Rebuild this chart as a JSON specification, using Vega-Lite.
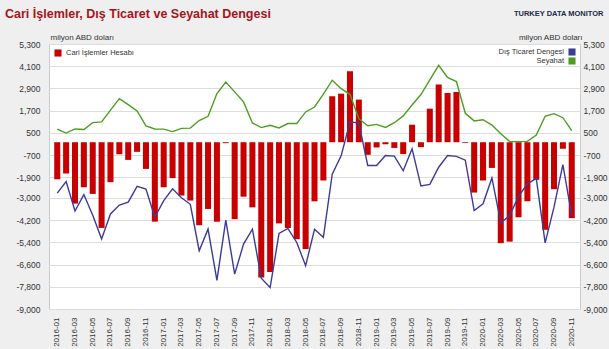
{
  "$schema": "https://vega.github.io/schema/vega-lite/v6.json",
  "width": 531,
  "height": 265,
  "autosize": {"type": "none"},
  "padding": {"left": 49, "top": 44, "right": 29, "bottom": 40},
  "background": "#efefef",
  "config": {
    "font": "Liberation Sans",
    "view": {"fill": "#ffffff", "stroke": "#cccccc", "strokeWidth": 1},
    "axis": {"labelFont": "Liberation Sans", "titleFont": "Liberation Sans", "labelColor": "#333333", "titleColor": "#333333"},
    "legend": {"labelFont": "Liberation Sans"}
  },
  "title": {
    "text": "Cari İşlemler, Dış Ticaret ve Seyahat Dengesi",
    "anchor": "start",
    "frame": "group",
    "dx": -44,
    "dy": 15,
    "fontSize": 12.5,
    "fontWeight": "bold",
    "color": "#a3161b",
    "font": "Liberation Sans Narrow, Liberation Sans"
  },
  "data": {
    "values": [
      {"month": "2016-01", "cari": -2000, "dis": -2745, "seyahat": 710},
      {"month": "2016-02", "cari": -1690, "dis": -2120, "seyahat": 495},
      {"month": "2016-03", "cari": -3310, "dis": -3710, "seyahat": 715},
      {"month": "2016-04", "cari": -2430, "dis": -2825, "seyahat": 690},
      {"month": "2016-05", "cari": -2790, "dis": -3940, "seyahat": 1060},
      {"month": "2016-06", "cari": -4625, "dis": -5220, "seyahat": 1100},
      {"month": "2016-07", "cari": -2155, "dis": -3870, "seyahat": 1730},
      {"month": "2016-08", "cari": -650, "dis": -3390, "seyahat": 2350},
      {"month": "2016-09", "cari": -955, "dis": -3230, "seyahat": 2030},
      {"month": "2016-10", "cari": -520, "dis": -2385, "seyahat": 1690},
      {"month": "2016-11", "cari": -1440, "dis": -2530, "seyahat": 878},
      {"month": "2016-12", "cari": -4285, "dis": -4050, "seyahat": 716},
      {"month": "2017-01", "cari": -2430, "dis": -3150, "seyahat": 707},
      {"month": "2017-02", "cari": -1935, "dis": -2515, "seyahat": 574},
      {"month": "2017-03", "cari": -2877, "dis": -3000, "seyahat": 745},
      {"month": "2017-04", "cari": -3147, "dis": -3350, "seyahat": 760},
      {"month": "2017-05", "cari": -4480, "dis": -5855, "seyahat": 1170},
      {"month": "2017-06", "cari": -3600, "dis": -4690, "seyahat": 1400},
      {"month": "2017-07", "cari": -4290, "dis": -7450, "seyahat": 2628},
      {"month": "2017-08", "cari": -50, "dis": -4200, "seyahat": 3250},
      {"month": "2017-09", "cari": -4150, "dis": -7120, "seyahat": 2716},
      {"month": "2017-10", "cari": -2940, "dis": -5500, "seyahat": 2175},
      {"month": "2017-11", "cari": -3515, "dis": -4690, "seyahat": 1040},
      {"month": "2017-12", "cari": -7300, "dis": -7340, "seyahat": 790},
      {"month": "2018-01", "cari": -7000, "dis": -7840, "seyahat": 914},
      {"month": "2018-02", "cari": -4380, "dis": -4920, "seyahat": 770},
      {"month": "2018-03", "cari": -4630, "dis": -4650, "seyahat": 1006},
      {"month": "2018-04", "cari": -5230, "dis": -5410, "seyahat": 1006},
      {"month": "2018-05", "cari": -5765, "dis": -6665, "seyahat": 1634},
      {"month": "2018-06", "cari": -3190, "dis": -4700, "seyahat": 1900},
      {"month": "2018-07", "cari": -2065, "dis": -5130, "seyahat": 2600},
      {"month": "2018-08", "cari": 2480, "dis": -1720, "seyahat": 3345},
      {"month": "2018-09", "cari": 2620, "dis": -735, "seyahat": 2890},
      {"month": "2018-10", "cari": 3830, "dis": 1085, "seyahat": 2585},
      {"month": "2018-11", "cari": 2300, "dis": 1045, "seyahat": 1270},
      {"month": "2018-12", "cari": -680, "dis": -1256, "seyahat": 888},
      {"month": "2019-01", "cari": -283, "dis": -1256, "seyahat": 962},
      {"month": "2019-02", "cari": -110, "dis": -715, "seyahat": 798},
      {"month": "2019-03", "cari": -308, "dis": -750, "seyahat": 1052},
      {"month": "2019-04", "cari": -640, "dis": -1540, "seyahat": 1420},
      {"month": "2019-05", "cari": 945, "dis": -353, "seyahat": 2008},
      {"month": "2019-06", "cari": -265, "dis": -2366, "seyahat": 2575},
      {"month": "2019-07", "cari": 1810, "dis": -2275, "seyahat": 3360},
      {"month": "2019-08", "cari": 3115, "dis": -1350, "seyahat": 4150},
      {"month": "2019-09", "cari": 2655, "dis": -715, "seyahat": 3495},
      {"month": "2019-10", "cari": 2710, "dis": -765, "seyahat": 3270},
      {"month": "2019-11", "cari": -40, "dis": -970, "seyahat": 1560},
      {"month": "2019-12", "cari": -2717, "dis": -3687, "seyahat": 1150},
      {"month": "2020-01", "cari": -2065, "dis": -3326, "seyahat": 1214},
      {"month": "2020-02", "cari": -1387, "dis": -1930, "seyahat": 926},
      {"month": "2020-03", "cari": -5446, "dis": -4348, "seyahat": 458},
      {"month": "2020-04", "cari": -5365, "dis": -3960, "seyahat": 40},
      {"month": "2020-05", "cari": -4050, "dis": -2925, "seyahat": 30},
      {"month": "2020-06", "cari": -3185, "dis": -2246, "seyahat": 45},
      {"month": "2020-07", "cari": -2030, "dis": -1957, "seyahat": 385},
      {"month": "2020-08", "cari": -4725, "dis": -5430, "seyahat": 1400},
      {"month": "2020-09", "cari": -2535, "dis": -3507, "seyahat": 1540},
      {"month": "2020-10", "cari": -353, "dis": -1210, "seyahat": 1322},
      {"month": "2020-11", "cari": -4095, "dis": -3960, "seyahat": 622}
    ]
  },
  "layer": [
    {
      "transform": [{"calculate": "'Cari İşlemler Hesabı'", "as": "seri1"}],
      "mark": {"type": "bar", "color": "#c80000"},
      "encoding": {
        "x": {
          "field": "month", "type": "ordinal", "sort": null,
          "scale": {"paddingInner": 0.32, "paddingOuter": 0.59},
          "axis": {
            "orient": "bottom",
            "title": null,
            "labelAngle": -90,
            "labelFontSize": 8,
            "labelPadding": 8,
            "ticks": false,
            "domain": false,
            "values": ["2016-01","2016-03","2016-05","2016-07","2016-09","2016-11","2017-01","2017-03","2017-05","2017-07","2017-09","2017-11","2018-01","2018-03","2018-05","2018-07","2018-09","2018-11","2019-01","2019-03","2019-05","2019-07","2019-09","2019-11","2020-01","2020-03","2020-05","2020-07","2020-09","2020-11"]
          }
        },
        "y": {
          "field": "cari", "type": "quantitative",
          "scale": {"domain": [-9000, 5300], "nice": false, "zero": false},
          "axis": {
            "orient": "left",
            "values": [-9000, -7800, -6600, -5400, -4200, -3000, -1900, -700, 500, 1700, 2900, 4100, 5300],
            "labelExpr": "replace(format(datum.value, ','), '−', '-')",
            "grid": true, "gridColor": "#dddddd", "gridWidth": 1.2,
            "domain": false, "ticks": false,
            "labelFontSize": 8.5, "labelPadding": 9,
            "title": "milyon ABD doları",
            "titleAngle": 0, "titleAlign": "left", "titleBaseline": "alphabetic",
            "titleX": 1, "titleY": -5,
            "titleFontSize": 8, "titleFontWeight": "normal"
          }
        },
        "color": {
          "field": "seri1", "type": "nominal",
          "scale": {"domain": ["Cari İşlemler Hesabı"], "range": ["#c80000"]},
          "legend": {
            "title": null, "orient": "top-left", "offset": 5,
            "symbolType": "square", "symbolSize": 50, "symbolStrokeWidth": 0,
            "labelFontSize": 7.5, "labelColor": "#333333", "labelOffset": 4
          }
        }
      }
    },
    {
      "transform": [
        {"fold": ["dis", "seyahat"], "as": ["key", "val"]},
        {"calculate": "datum.key == 'dis' ? 'Dış Ticaret Dengesi' : 'Seyahat'", "as": "seri2"}
      ],
      "mark": {"type": "line", "strokeWidth": 1.4},
      "encoding": {
        "x": {
          "field": "month", "type": "ordinal", "sort": null,
          "axis": {
            "orient": "top", "labels": false, "ticks": false, "domain": false, "grid": false,
            "title": "TURKEY DATA MONITOR",
            "titleAlign": "right", "titleAnchor": "end", "titleBaseline": "alphabetic",
            "titleX": 554, "titleY": -29,
            "titleFont": "Liberation Sans Narrow, Liberation Sans",
            "titleFontSize": 7.5, "titleFontWeight": "bold", "titleColor": "#1b2a49"
          }
        },
        "y": {
          "field": "val", "type": "quantitative",
          "scale": {"domain": [-9000, 5300], "nice": false, "zero": false},
          "axis": {
            "orient": "right",
            "values": [-9000, -7800, -6600, -5400, -4200, -3000, -1900, -700, 500, 1700, 2900, 4100, 5300],
            "labelExpr": "replace(format(datum.value, ','), '−', '-')",
            "grid": false, "domain": false, "ticks": false,
            "labelFontSize": 8.5, "labelPadding": 3,
            "title": "milyon ABD doları",
            "titleAngle": 0, "titleAlign": "right", "titleBaseline": "alphabetic",
            "titleX": 2, "titleY": -5,
            "titleFontSize": 8, "titleFontWeight": "normal"
          }
        },
        "color": {
          "field": "seri2", "type": "nominal",
          "scale": {"domain": ["Dış Ticaret Dengesi", "Seyahat"], "range": ["#3b3b98", "#4c9e22"]},
          "legend": {
            "title": null, "orient": "top-right", "offset": 4,
            "symbolType": "square", "symbolSize": 50, "symbolStrokeWidth": 0,
            "labelFontSize": 7.5, "labelColor": "#333333",
            "labelAlign": "right", "labelOffset": -12, "rowPadding": 1,
            "encode": {
              "symbols": {
                "update": {
                  "fill": {"signal": "datum.value == 'Seyahat' ? '#4c9e22' : '#3b3b98'"},
                  "fillOpacity": {"value": 1},
                  "strokeWidth": {"value": 0}
                }
              }
            }
          }
        }
      }
    }
  ],
  "resolve": {"scale": {"y": "independent", "color": "independent"}, "axis": {"x": "independent"}}
}
